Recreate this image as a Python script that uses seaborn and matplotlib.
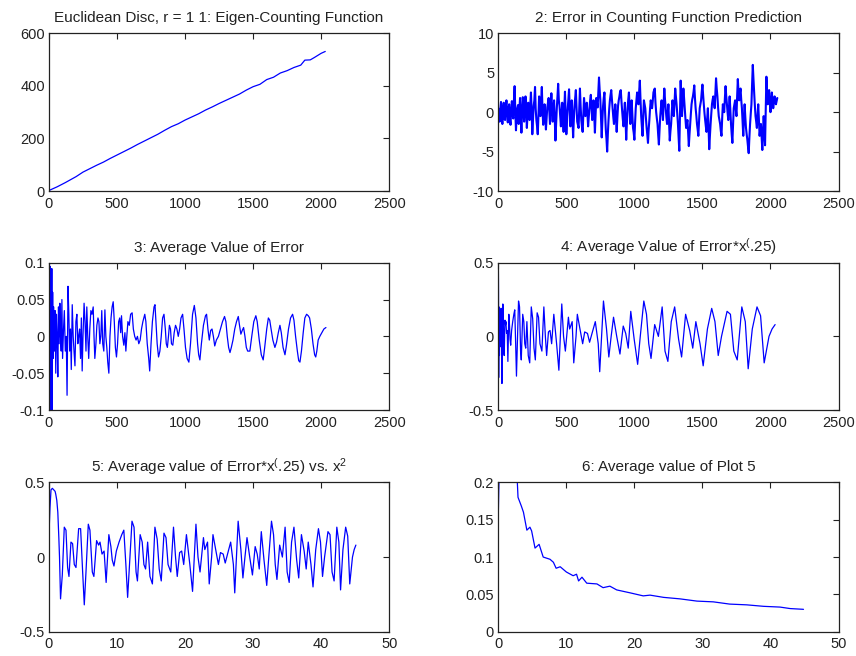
import numpy as np
import matplotlib
matplotlib.use("Agg")
import matplotlib.pyplot as plt
import seaborn as sns

sns.set_style("white")
plt.rcParams["font.family"] = ["Liberation Sans", "DejaVu Sans"]
plt.rcParams["mathtext.fontset"] = "custom"
plt.rcParams["mathtext.rm"] = "Liberation Sans"
plt.rcParams["mathtext.it"] = "Liberation Sans"
plt.rcParams["path.simplify"] = False

LINE = "#0000ff"

# 1: eigen-counting function N(lambda)
count_pts = [
    (0, 2), (60, 16), (120, 32), (200, 55), (250, 72), (300, 85), (350, 98),
    (400, 110), (450, 124), (500, 137), (550, 150), (600, 163), (650, 177),
    (700, 190), (750, 203), (800, 216), (850, 231), (900, 245), (950, 256),
    (1000, 270), (1050, 282), (1100, 294), (1150, 308), (1200, 320),
    (1250, 333), (1300, 345), (1350, 357), (1400, 369), (1450, 384),
    (1500, 397), (1550, 406), (1600, 424), (1650, 433), (1700, 449),
    (1750, 458), (1800, 470), (1850, 479), (1880, 498), (1920, 499),
    (1950, 508), (2000, 524), (2030, 531),
]

# 2: error in counting-function prediction, sampled every 5 units
err_x = list(range(0, 2051, 5))
err_y = [
    0.5, -0.6, -1.2, 0.4, 1.3, -0.3, -1.5, 0.2, 1.2, -0.8, -1.0,
    0.6, 1.5, -0.2, -1.3, 0.5, 1.0, -0.9, -1.6, 0.3, 1.4,
    -0.2, -0.8, 1.5, 3.3, 0.2, -2.3, -0.5, 0.5, 0.9, -1.5,
    0.3, 1.8, -0.4, -2.6, 0.1, 1.9, 0.8, -1.2, 0.5, 2.0,
    0.2, -2.0, -0.3, 1.2, 0.5, -1.0, 0.9, 2.5, 0.3, -2.8,
    -1.0, 0.8, 1.5, 3.2, 0.4, -1.0, -1.8, -2.8, -0.5, 2.0,
    0.8, -0.5, 1.4, 3.2, 0.2, -1.6, -0.6, 1.0, -0.4, -2.2,
    -0.8, 0.6, 1.2, 1.8, 0.2, -1.5, 0.6, 2.4, 0.5, -1.2,
    0.2, 1.5, -0.8, -3.6, -1.5, 0.5, 2.0, 3.6, 1.5, 0.8,
    -0.5, -1.8, -0.3, 1.2, -0.6, -2.5, 0.3, 2.6, -0.2, -2.8,
    -1.2, 0.4, 1.6, 2.9, 0.4, -1.8, -0.2, 1.5, -0.8, -3.2,
    -1.0, 0.8, 1.8, 2.8, 0.6, -1.2, -1.6, -2.0, 0.5, 3.0,
    0.8, -1.0, -1.9, -2.5, -0.3, 1.8, 0.7, -0.5, 0.4, 1.2,
    -0.2, -1.8, -0.6, 0.5, 1.5, 2.2, 0.6, -1.0, 0.3, 1.5,
    -0.4, -2.6, -0.3, 1.8, 1.2, 0.6, 2.5, 4.4, 2.8, 1.5,
    -0.8, -3.2, -1.0, 0.8, 1.8, 2.5, -0.1, -2.2, -3.4, -5.0,
    -2.8, -1.0, 0.4, 1.5, 2.2, 2.8, 1.6, 0.5, -0.6, -1.5,
    -0.1, 1.0, -0.8, -2.5, -0.7, 0.8, 1.5, 2.0, 2.6, 2.8,
    1.4, 0.2, -0.9, -1.8, -0.2, 1.2, -1.0, -3.5, -1.4, 0.5,
    1.6, 2.5, 0.4, -1.5, 0.1, 1.5, -0.3, -2.0, -2.6, -3.5,
    -1.4, 0.5, 1.5, 2.5, 1.8, 1.0, 2.6, 4.0, 1.6, -0.5,
    -1.8, -3.0, -0.6, 1.5, 1.0, 0.5, -0.8, -2.0, -2.9, -3.9,
    -2.2, -1.0, 0.4, 1.5, 1.0, 0.5, 1.4, 2.5, 2.8, 3.0,
    1.2, 0.0, -0.8, -1.5, -2.9, -4.1, -2.2, -0.5, 0.6, 1.5,
    0.2, -1.0, 1.2, 3.0, 1.6, 0.5, -0.6, -1.5, -0.2, 1.0,
    -1.4, -3.6, -2.4, -1.5, 0.1, 1.5, 0.6, -0.5, 1.2, 3.0,
    2.0, 1.0, -0.2, -1.5, -3.2, -4.9, -0.3, 4.0, 1.6, -0.5,
    1.4, 3.0, 1.8, 0.5, -0.8, -2.0, -1.4, -1.0, -2.6, -4.3,
    -2.8, -1.5, -0.2, 1.0, 1.6, 2.0, 2.6, 3.4, 1.8, 0.5,
    -0.4, -1.5, -2.2, -3.0, -1.2, 0.5, 1.0, 1.5, 2.6, 3.5,
    2.2, 1.0, -0.1, -1.0, -1.8, -2.5, -0.8, 0.5, -2.0, -4.7,
    -3.0, -1.5, -0.2, 1.0, 1.6, 2.0, 1.2, 0.5, 2.4, 4.3,
    3.0, 2.0, 0.6, -0.5, -1.0, -1.5, -2.4, -3.0, -0.8, 1.0,
    0.4, 0.0, 1.8, 3.3, 2.0, 1.0, -0.1, -1.0, 0.6, 2.0,
    0.3, -1.5, -2.8, -3.9, -1.6, 0.5, 1.0, 1.5, 0.4, -0.5,
    2.0, 4.2, 2.6, 1.5, 2.4, 3.0, 1.6, 0.5, -1.2, -3.0,
    -0.9, 1.0, -0.6, -2.0, -2.8, -3.5, -4.4, -5.2, -3.2, -1.5,
    -0.2, 1.0, 3.6, 6.0, 4.2, 2.5, 0.9, -0.5, -1.2, -2.0,
    -0.4, 1.0, -1.0, -3.0, -2.2, -1.5, -3.2, -4.8, -2.6, -0.5,
    -2.4, -4.2, 0.2, 4.5, 2.6, 1.0, 1.8, 2.8, 1.4, 0.0,
    1.2, 2.5, 1.4, 0.5, 1.2, 2.0, 1.6, 1.0, 1.4, 1.8,
]

# 3: running average of the error
avg_err_pts = [
    (0, 0.0), (3, 0.09), (6, -0.08), (9, 0.095), (12, -0.1), (15, 0.09),
    (18, -0.05), (21, 0.092), (24, -0.1), (27, 0.06), (30, -0.03),
    (35, 0.04), (40, -0.02), (45, 0.035), (50, -0.05), (55, 0.03),
    (60, 0.0), (65, -0.055), (70, 0.04), (75, -0.01), (80, 0.045),
    (85, 0.0), (90, -0.02), (95, 0.05), (100, -0.03), (107, 0.01),
    (113, 0.035), (120, -0.02), (127, 0.0), (133, -0.08), (140, 0.068),
    (146, 0.03), (152, -0.02), (158, 0.01), (164, -0.045), (171, 0.043),
    (178, 0.0), (184, -0.02), (191, -0.04), (198, 0.02), (205, 0.03),
    (212, -0.01), (218, 0.0), (225, 0.01), (232, -0.03), (238, 0.025),
    (244, -0.047), (250, 0.0), (258, 0.045), (265, 0.02), (272, -0.02),
    (278, 0.04), (285, 0.0), (292, -0.03), (300, 0.01), (308, 0.035),
    (316, 0.03), (325, 0.04), (331, 0.0), (337, -0.03), (345, -0.01),
    (352, 0.015), (360, 0.025), (367, 0.02), (374, -0.01), (381, 0.0),
    (388, 0.035), (395, -0.01), (403, -0.02), (411, 0.036), (418, 0.0),
    (425, -0.015), (432, -0.035), (440, -0.05), (448, 0.0), (456, 0.025),
    (464, 0.04), (472, 0.047), (480, 0.02), (488, -0.015), (496, -0.028),
    (504, -0.01), (512, 0.02), (520, 0.025), (527, 0.005), (533, 0.028),
    (541, 0.0), (550, -0.012), (558, 0.005), (565, -0.02), (572, 0.0),
    (580, 0.02), (590, 0.015), (600, 0.03), (611, 0.032), (620, 0.01),
    (630, 0.0), (640, -0.005), (650, 0.0), (660, -0.01), (670, -0.005),
    (680, 0.01), (690, 0.02), (704, 0.03), (712, 0.02), (722, -0.01),
    (733, -0.03), (740, -0.047), (750, -0.01), (760, 0.02), (772, 0.04),
    (779, 0.043), (786, 0.02), (795, -0.01), (805, -0.028), (815, -0.02),
    (825, 0.0), (835, 0.025), (845, 0.03), (855, 0.01), (862, -0.01),
    (870, -0.015), (878, 0.0), (885, 0.015), (893, 0.01), (900, -0.01),
    (910, -0.012), (920, 0.005), (930, 0.015), (940, 0.01), (950, 0.0),
    (960, 0.01), (970, 0.025), (982, 0.03), (992, 0.01), (1003, -0.015),
    (1015, -0.03), (1028, -0.035), (1040, -0.01), (1055, 0.03),
    (1068, 0.042), (1080, 0.025), (1092, -0.01), (1100, -0.025),
    (1109, -0.032), (1120, -0.01), (1135, 0.015), (1150, 0.028),
    (1158, 0.03), (1168, 0.01), (1178, -0.005), (1188, 0.008),
    (1198, 0.01), (1208, 0.0), (1218, -0.013), (1230, -0.005),
    (1245, 0.0), (1260, 0.01), (1275, 0.02), (1290, 0.027), (1300, 0.02),
    (1310, 0.0), (1320, -0.015), (1330, -0.022), (1340, -0.015),
    (1352, -0.005), (1365, 0.01), (1378, 0.02), (1391, 0.027),
    (1400, 0.015), (1410, 0.003), (1420, 0.008), (1430, 0.012),
    (1440, 0.0), (1450, -0.015), (1460, -0.02), (1476, -0.02),
    (1490, 0.0), (1505, 0.02), (1520, 0.028), (1530, 0.02),
    (1545, -0.005), (1560, -0.025), (1574, -0.032), (1585, -0.015),
    (1600, 0.01), (1612, 0.025), (1622, 0.022), (1632, 0.01),
    (1645, -0.005), (1660, -0.015), (1672, -0.008), (1685, 0.005),
    (1697, 0.015), (1707, 0.005), (1720, -0.015), (1734, -0.025),
    (1745, -0.012), (1760, 0.01), (1775, 0.025), (1790, 0.03),
    (1800, 0.022), (1812, 0.0), (1825, -0.02), (1835, -0.033),
    (1844, -0.035), (1855, -0.02), (1868, 0.005), (1880, 0.025),
    (1893, 0.03), (1905, 0.028), (1915, 0.025), (1928, 0.01),
    (1940, -0.01), (1952, -0.025), (1960, -0.028), (1968, -0.02),
    (1978, -0.005), (1990, 0.0), (2005, 0.005), (2020, 0.01), (2035, 0.012),
]

# 4/5: running average of error*x^(.25), indexed by k = sqrt(lambda)
scaled_pts = [
    (0.0, 0.15), (0.15, 0.33), (0.3, 0.45), (0.5, 0.46), (0.9, 0.44),
    (1.0, 0.42), (1.15, 0.38), (1.3, 0.3), (1.45, 0.13), (1.55, 0.0),
    (1.7, -0.28), (1.96, -0.12), (2.25, 0.2), (2.5, 0.18), (2.74, -0.07),
    (2.94, -0.13), (3.23, 0.1), (3.47, 0.09), (3.72, -0.05), (3.97, -0.07),
    (4.36, 0.19), (4.65, 0.19), (4.95, -0.1), (5.19, -0.32), (5.44, -0.1),
    (5.78, 0.22), (6.02, 0.18), (6.37, -0.1), (6.6, -0.13), (7.0, 0.11),
    (7.3, 0.08), (7.5, 0.1), (7.8, 0.02), (8.1, 0.04), (8.4, -0.17),
    (8.8, 0.15), (9.1, 0.07), (9.3, -0.02), (9.55, -0.06), (9.9, 0.04),
    (10.3, 0.1), (10.7, 0.15), (11.0, 0.18), (11.3, -0.05), (11.56, -0.27),
    (11.9, 0.0), (12.2, 0.24), (12.5, 0.2), (12.8, -0.1), (13.0, -0.16),
    (13.4, 0.15), (13.7, 0.1), (13.95, -0.05), (14.2, -0.08), (14.5, 0.1),
    (14.84, -0.13), (15.2, -0.18), (15.57, 0.2), (15.9, 0.12), (16.2, -0.08),
    (16.5, -0.16), (16.9, 0.16), (17.2, 0.13), (17.5, -0.05), (17.9, -0.1),
    (18.3, 0.2), (18.6, 0.0), (18.85, -0.13), (19.2, 0.03), (19.5, 0.04),
    (19.8, -0.05), (20.2, 0.15), (20.7, -0.05), (21.1, -0.23), (21.6, 0.22),
    (21.9, 0.0), (22.2, -0.1), (22.7, 0.13), (22.9, 0.05), (23.3, 0.1),
    (23.55, -0.18), (23.9, 0.0), (24.1, 0.15), (24.5, 0.05), (24.9, -0.05),
    (25.2, 0.03), (25.6, 0.02), (25.9, -0.04), (26.3, 0.03), (26.7, 0.1),
    (27.1, -0.05), (27.3, -0.24), (27.8, 0.24), (28.2, 0.05), (28.5, -0.14),
    (28.8, 0.0), (29.1, 0.13), (29.5, 0.0), (29.9, -0.12), (30.3, 0.07),
    (30.6, 0.02), (30.9, -0.08), (31.2, 0.17), (31.6, -0.02), (32.0, -0.19),
    (32.3, 0.0), (32.7, 0.24), (33.0, 0.15), (33.25, -0.05), (33.5, -0.15),
    (33.9, 0.08), (34.3, 0.0), (34.7, 0.2), (35.0, -0.1), (35.3, -0.17),
    (35.65, 0.1), (36.0, 0.2), (36.4, -0.02), (36.7, -0.14), (37.1, 0.15),
    (37.5, 0.04), (37.8, -0.08), (38.1, 0.1), (38.5, -0.05), (38.8, -0.2),
    (39.2, 0.05), (39.6, 0.19), (39.9, 0.1), (40.2, -0.13), (40.5, 0.0),
    (41.0, 0.17), (41.3, 0.15), (41.6, -0.1), (41.9, -0.16), (42.3, 0.2),
    (42.6, 0.1), (42.85, -0.22), (43.2, 0.05), (43.6, 0.2), (43.9, 0.14),
    (44.2, -0.18), (44.6, 0.0), (44.85, 0.05), (45.1, 0.08),
]

# 6: running average of plot 5
avg5_pts = [
    (0.0, 0.155), (0.3, 0.3), (1.5, 0.28), (2.8, 0.2), (2.9, 0.18),
    (3.4, 0.168), (3.7, 0.16), (4.2, 0.136), (4.65, 0.14), (4.9, 0.135),
    (5.4, 0.112), (6.0, 0.117), (6.6, 0.1), (7.6, 0.097), (8.1, 0.093),
    (8.5, 0.085), (9.1, 0.087), (10.0, 0.08), (11.0, 0.075), (11.5, 0.077),
    (11.8, 0.068), (12.3, 0.073), (13.0, 0.065), (14.5, 0.064),
    (15.4, 0.059), (16.4, 0.061), (17.4, 0.056), (18.4, 0.054),
    (19.4, 0.052), (21.3, 0.048), (22.3, 0.049), (24.3, 0.046),
    (26.7, 0.044), (29.2, 0.041), (31.6, 0.04), (34.0, 0.037),
    (36.5, 0.036), (39.0, 0.034), (41.4, 0.033), (42.9, 0.031),
    (44.85, 0.030),
]

count_x, count_y = map(np.array, zip(*count_pts))
avg_x, avg_y = map(np.array, zip(*avg_err_pts))
k_vals, scaled_y = map(np.array, zip(*scaled_pts))
lam_vals = k_vals ** 2  # lambda = k^2
avg5_x, avg5_y = map(np.array, zip(*avg5_pts))

titles = [
    "Euclidean Disc, r = 1 1: Eigen-Counting Function",
    "2: Error in Counting Function Prediction",
    "3: Average Value of Error",
    r"4: Average Value of Error*x$\mathregular{^{(}}$.25)",
    r"5: Average value of Error*x$\mathregular{^{(}}$.25) vs. x$\mathregular{^2}$",
    "6: Average value of Plot 5",
]

fig = plt.figure(figsize=(8.56, 6.56), dpi=100)
fig.patch.set_facecolor("white")

col_left = [0.0572, 0.5821]
col_w = 0.3975
rows = [(0.7088, 0.2404), (0.375, 0.2245), (0.0370, 0.2277)]

axes = []
for r, (b, h) in enumerate(rows):
    for c in range(2):
        axes.append(fig.add_axes([col_left[c], b, col_w, h]))

series = [
    (count_x, count_y, 0.9),
    (np.array(err_x), np.array(err_y), 1.5),
    (avg_x, avg_y, 0.9),
    (lam_vals, scaled_y, 0.9),
    (k_vals, scaled_y, 0.9),
    (avg5_x, avg5_y, 0.9),
]

xlims = [(0, 2500)] * 4 + [(0, 50)] * 2
ylims = [(0, 600), (-10, 10), (-0.1, 0.1), (-0.5, 0.5), (-0.5, 0.5), (0, 0.2)]
xticks = [[0, 500, 1000, 1500, 2000, 2500]] * 4 + [[0, 10, 20, 30, 40, 50]] * 2
yticks = [
    ([0, 200, 400, 600], ["0", "200", "400", "600"]),
    ([-10, -5, 0, 5, 10], ["-10", "-5", "0", "5", "10"]),
    ([-0.1, -0.05, 0, 0.05, 0.1], ["-0.1", "-0.05", "0", "0.05", "0.1"]),
    ([-0.5, 0, 0.5], ["-0.5", "0", "0.5"]),
    ([-0.5, 0, 0.5], ["-0.5", "0", "0.5"]),
    ([0, 0.05, 0.1, 0.15, 0.2], ["0", "0.05", "0.1", "0.15", "0.2"]),
]

for i, ax in enumerate(axes):
    x, y, lw = series[i]
    sns.lineplot(x=x, y=y, ax=ax, color=LINE, linewidth=lw,
                 estimator=None, sort=False, legend=False)
    ax.set_xlim(*xlims[i])
    ax.set_ylim(*ylims[i])
    ax.set_xticks(xticks[i])
    ax.set_xticklabels([str(t) for t in xticks[i]])
    ax.set_yticks(yticks[i][0])
    ax.set_yticklabels(yticks[i][1])
    ax.set_xlabel("")
    ax.set_ylabel("")
    ax.tick_params(direction="in", length=4, width=0.8, color="#222222",
                   top=True, right=True, labelsize=10.5, labelcolor="#222222")
    ax.tick_params(axis="x", pad=4)
    ax.tick_params(axis="y", pad=3)
    for sp in ax.spines.values():
        sp.set_visible(True)
        sp.set_color("#222222")
        sp.set_linewidth(0.9)
    ax.set_title(titles[i], fontsize=11, color="#222222", pad=8)

fig.savefig("out.png", dpi=100, facecolor="white")
